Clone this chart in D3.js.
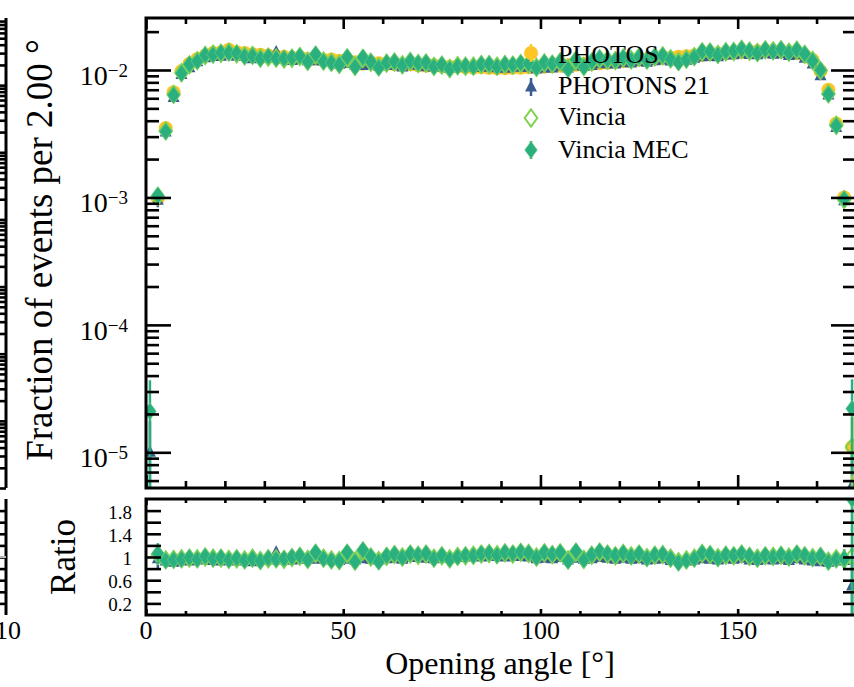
<!DOCTYPE html>
<html><head><meta charset="utf-8">
<script src="https://cdn.jsdelivr.net/npm/d3@7"></script>
<style>body{margin:0;background:#fff}svg{display:block}</style>
</head><body>
<svg id="c" width="854" height="687"></svg>
<script>
// ---------------- DATA ----------------
const bins = [1,3,5,7,9,11,13,15,17,19,21,23,25,27,29,31,33,35,37,39,41,43,45,47,49,51,53,55,57,59,
  61,63,65,67,69,71,73,75,77,79,81,83,85,87,89,91,93,95,97,99,101,103,105,107,109,111,113,115,117,119,
  121,123,125,127,129,131,133,135,137,139,141,143,145,147,149,151,153,155,157,159,161,163,165,167,169,171,173,175,177,179];

// PHOTOS (reference) fraction of events per bin
const photos = [0, 9.8e-4, 3.5e-3, 6.7e-3, 9.8e-3, 1.12e-2, 1.22e-2, 1.30e-2, 1.36e-2, 1.38e-2,
  1.44e-2, 1.38e-2, 1.36e-2, 1.33e-2, 1.32e-2, 1.30e-2, 1.28e-2, 1.27e-2, 1.25e-2, 1.26e-2,
  1.22e-2, 1.23e-2, 1.20e-2, 1.21e-2, 1.18e-2, 1.17e-2, 1.15e-2, 1.12e-2, 1.15e-2, 1.13e-2,
  1.12e-2, 1.11e-2, 1.10e-2, 1.11e-2, 1.09e-2, 1.08e-2, 1.09e-2, 1.07e-2, 1.06e-2, 1.07e-2,
  1.05e-2, 1.04e-2, 1.05e-2, 1.04e-2, 1.03e-2, 1.03e-2, 1.04e-2, 1.04e-2, 1.05e-2, 1.05e-2,
  1.06e-2, 1.07e-2, 1.08e-2, 1.09e-2, 1.10e-2, 1.11e-2, 1.12e-2, 1.13e-2, 1.14e-2, 1.16e-2,
  1.17e-2, 1.18e-2, 1.20e-2, 1.21e-2, 1.23e-2, 1.24e-2, 1.25e-2, 1.27e-2, 1.28e-2, 1.30e-2,
  1.31e-2, 1.33e-2, 1.34e-2, 1.35e-2, 1.37e-2, 1.38e-2, 1.39e-2, 1.40e-2, 1.41e-2, 1.40e-2,
  1.40e-2, 1.38e-2, 1.36e-2, 1.30e-2, 1.20e-2, 9.8e-3, 7.0e-3, 3.8e-3, 1.0e-3, 1.1e-5];

// Ratios to PHOTOS (lower panel)
const ratioPhotons = [null, 0.97, 0.93, 0.91, 0.94, 0.93, 0.95, 0.96, 0.94, 0.93,
  0.96, 0.93, 0.95, 0.92, 0.94, 0.95, 1.08, 0.95, 0.95, 0.96,
  0.97, 0.96, 0.98, 0.95, 0.94, 0.96, 0.95, 0.97, 0.96, 0.95,
  0.97, 0.98, 0.96, 0.99, 1.00, 0.98, 0.97, 0.99, 0.98, 0.99,
  1.00, 1.01, 1.00, 1.02, 1.01, 1.00, 1.02, 1.01, 1.00, 0.97,
  0.98, 0.97, 0.99, 0.95, 0.98, 0.96, 0.97, 0.99, 0.98, 0.96,
  0.98, 0.96, 0.97, 0.95, 0.96, 0.97, 0.94, 0.96, 0.93, 0.95,
  0.97, 0.96, 0.95, 0.97, 0.96, 0.98, 0.95, 0.94, 0.96, 0.95,
  0.96, 0.94, 0.97, 0.95, 0.93, 0.92, 0.91, 0.93, 0.94, 0.50];
const ratioVincia = [null, 1.04, 0.95, 0.96, 0.97, 0.98, 0.97, 1.00, 0.98, 0.98,
  0.96, 0.97, 0.95, 0.98, 0.94, 0.97, 0.97, 0.96, 0.99, 1.01,
  0.96, 1.06, 0.98, 0.95, 0.94, 1.06, 0.93, 1.10, 1.00, 0.94,
  1.01, 1.04, 1.00, 1.05, 1.03, 1.05, 0.98, 1.02, 0.97, 1.01,
  1.02, 1.03, 1.05, 1.06, 1.04, 1.07, 1.05, 1.08, 1.06, 1.00,
  1.07, 1.04, 1.07, 0.95, 1.08, 0.96, 1.03, 1.08, 1.05, 1.02,
  1.06, 1.02, 1.05, 0.99, 1.03, 1.04, 0.98, 0.92, 0.95, 0.98,
  1.06, 1.04, 0.99, 1.03, 1.02, 1.05, 1.01, 0.98, 1.02, 1.01,
  1.03, 1.00, 1.05, 1.02, 0.99, 1.01, 0.93, 0.97, 0.96, 1.00];
const ratioMec = [null, 1.06, 0.94, 0.95, 0.96, 0.99, 0.96, 1.01, 0.97, 0.99,
  0.95, 0.98, 0.94, 0.97, 0.93, 0.98, 0.96, 0.97, 1.00, 1.02,
  0.95, 1.08, 0.97, 0.94, 0.93, 1.08, 0.92, 1.12, 1.01, 0.92,
  1.02, 1.05, 0.99, 1.06, 1.04, 1.06, 0.97, 1.03, 0.96, 1.00,
  1.03, 1.02, 1.06, 1.07, 1.03, 1.08, 1.06, 1.09, 1.07, 0.99,
  1.08, 1.05, 1.08, 0.93, 1.10, 0.95, 1.04, 1.10, 1.06, 1.03,
  1.07, 1.01, 1.06, 0.98, 1.04, 1.05, 0.97, 0.90, 0.94, 0.97,
  1.07, 1.05, 0.98, 1.04, 1.03, 1.06, 1.02, 0.97, 1.03, 1.00,
  1.04, 0.99, 1.06, 1.03, 0.98, 1.02, 0.92, 0.96, 0.97, 2.00];

// values in the first bin, where PHOTOS is empty
const firstBinValues = { photons: 1.0e-5, vincia: null, mec: 2.1e-5 };

// relative statistical uncertainty per bin
const relErr = [0.75, 0.12, 0.05, 0.03, 0.02, 0.02, 0.02, 0.02, 0.02, 0.02,
  0.02, 0.02, 0.02, 0.02, 0.02, 0.02, 0.02, 0.02, 0.02, 0.02,
  0.02, 0.02, 0.02, 0.02, 0.02, 0.02, 0.02, 0.02, 0.02, 0.02,
  0.02, 0.02, 0.02, 0.02, 0.02, 0.02, 0.02, 0.02, 0.02, 0.02,
  0.02, 0.02, 0.02, 0.02, 0.02, 0.02, 0.02, 0.02, 0.02, 0.02,
  0.02, 0.02, 0.02, 0.02, 0.02, 0.02, 0.02, 0.02, 0.02, 0.02,
  0.02, 0.02, 0.02, 0.02, 0.02, 0.02, 0.02, 0.02, 0.02, 0.02,
  0.02, 0.02, 0.02, 0.02, 0.02, 0.02, 0.02, 0.02, 0.02, 0.02,
  0.02, 0.02, 0.02, 0.02, 0.02, 0.03, 0.05, 0.06, 0.12, 0.70];

const legendLabels = ["PHOTOS", "PHOTONS 21", "Vincia", "Vincia MEC"];
const xTickLabels = [0, 50, 100, 150];
const mainDecades = [-2, -3, -4, -5];
const ratioTickLabels = ["1.8", "1.4", "1", "0.6", "0.2"];

// ---------------- LAYOUT ----------------
const svg = d3.select("#c");
const FONT = "'Liberation Serif','Times New Roman',serif";
const X0 = 146, X1 = 856, MT = 18, MB = 488, RT = 499, RB = 615;
const x = d3.scaleLinear().domain([0, 180]).range([X0, X1]);
const yMain = d3.scaleLog().domain([Math.pow(10, -5.28), Math.pow(10, -1.592)]).range([MB, MT]);
const yRat = d3.scaleLinear().domain([0, 2]).range([RB, RT]);

const colors = { photos: "#fdc526", photons: "#3b5b91", vincia: "#7fd24f", mec: "#2ab07f" };

// ---- build series ----
function mainSeries(ratio, key) {
  return bins.map((b, i) => {
    let v = null;
    if (photos[i] > 0 && ratio[i] != null) v = photos[i] * ratio[i];
    else if (i === 0) v = firstBinValues[key];
    return v == null ? null : { a: b, v, e: relErr[i] };
  }).filter(d => d);
}
const sPhotos = bins.map((b, i) => photos[i] > 0 ? { a: b, v: photos[i], e: relErr[i] } : null).filter(d => d);
const sPhotons = mainSeries(ratioPhotons, "photons");
const sVincia = mainSeries(ratioVincia, "vincia");
const sMec = mainSeries(ratioMec, "mec");
function ratioSeries(ratio) {
  return bins.map((b, i) => ratio[i] == null ? null : { a: b, r: ratio[i], e: ratio[i] * Math.SQRT2 * relErr[i] }).filter(d => d);
}

// ---- clip paths ----
const defs = svg.append("defs");
defs.append("clipPath").attr("id", "clipMain").append("rect").attr("x", X0).attr("y", MT).attr("width", X1 - X0).attr("height", MB - MT);
defs.append("clipPath").attr("id", "clipRat").append("rect").attr("x", X0).attr("y", RT).attr("width", X1 - X0).attr("height", RB - RT);

// ---- marker drawing ----
const triPath = "M0,-7L6,4.5L-6,4.5Z";
const diaPath = "M0,-8.5L6.3,0L0,8.5L-6.3,0Z";
function drawMarkers(g, data, kind, cx, cy) {
  data.forEach(d => {
    const X = cx(d), Y = cy(d);
    if (kind === "photos") g.append("circle").attr("cx", X).attr("cy", Y).attr("r", 7).attr("fill", colors.photos);
    else if (kind === "photons") g.append("path").attr("d", triPath).attr("transform", `translate(${X},${Y})`).attr("fill", colors.photons);
    else if (kind === "vincia") g.append("path").attr("d", diaPath).attr("transform", `translate(${X},${Y})`).attr("fill", "none").attr("stroke", colors.vincia).attr("stroke-width", 2);
    else g.append("path").attr("d", diaPath).attr("transform", `translate(${X},${Y})`).attr("fill", colors.mec).attr("stroke", "#6fd07a").attr("stroke-width", 0.6);
  });
}
function drawErr(g, data, color, ylo, yhi) {
  data.forEach(d => {
    g.append("line").attr("x1", x(d.a)).attr("x2", x(d.a)).attr("y1", ylo(d)).attr("y2", yhi(d))
      .attr("stroke", color).attr("stroke-width", 2.5);
  });
}

// ---- main panel data ----
const gMain = svg.append("g").attr("clip-path", "url(#clipMain)");
const yMin = yMain.domain()[0];
const mlo = d => yMain(Math.max(d.v * (1 - d.e), yMin * 0.5));
const mhi = d => yMain(d.v * (1 + d.e));
[[sPhotos, "photos"], [sPhotons, "photons"], [sVincia, "vincia"], [sMec, "mec"]].forEach(([s, k]) => {
  drawErr(gMain, s, colors[k], mlo, mhi);
  drawMarkers(gMain, s, k, d => x(d.a), d => yMain(d.v));
});

// ---- ratio panel data ----
const gRat = svg.append("g").attr("clip-path", "url(#clipRat)");
gRat.append("line").attr("x1", X0).attr("x2", X1).attr("y1", yRat(1)).attr("y2", yRat(1)).attr("stroke", "#bbbbbb").attr("stroke-width", 2);
[[ratioSeries(ratioPhotons), "photons"], [ratioSeries(ratioVincia), "vincia"], [ratioSeries(ratioMec), "mec"]].forEach(([s, k]) => {
  drawErr(gRat, s, colors[k], d => yRat(d.r - d.e), d => yRat(d.r + d.e));
  drawMarkers(gRat, s, k, d => x(d.a), d => yRat(d.r));
});

// ---------------- AXES ----------------
function styleAxis(g) {
  g.select(".domain").remove();
  g.selectAll(".tick line").attr("stroke", "#000").attr("stroke-width", 2.6);
  g.selectAll(".tick text").remove();
}
const decadeVals = [1e-5, 1e-4, 1e-3, 1e-2];
const minorVals = [];
[1e-6, 1e-5, 1e-4, 1e-3, 1e-2].forEach(d => { for (let k = 2; k <= 9; k++) { const v = d * k; if (v >= yMain.domain()[0] && v <= yMain.domain()[1]) minorVals.push(v); } });
// main y axes
svg.append("g").attr("transform", `translate(${X0},0)`).call(d3.axisRight(yMain).tickValues(decadeVals).tickSize(25)).call(styleAxis);
svg.append("g").attr("transform", `translate(${X0},0)`).call(d3.axisRight(yMain).tickValues(minorVals).tickSize(13)).call(styleAxis);
svg.append("g").attr("transform", `translate(${X1},0)`).call(d3.axisLeft(yMain).tickValues(decadeVals).tickSize(25)).call(styleAxis);
svg.append("g").attr("transform", `translate(${X1},0)`).call(d3.axisLeft(yMain).tickValues(minorVals).tickSize(13)).call(styleAxis);
// x axes
const xMajor = [0, 50, 100, 150], xMinor = [10, 20, 30, 40, 60, 70, 80, 90, 110, 120, 130, 140, 160, 170];
svg.append("g").attr("transform", `translate(0,${MT})`).call(d3.axisBottom(x).tickValues(xMajor).tickSize(11)).call(styleAxis);
svg.append("g").attr("transform", `translate(0,${MT})`).call(d3.axisBottom(x).tickValues(xMinor).tickSize(6)).call(styleAxis);
svg.append("g").attr("transform", `translate(0,${MB})`).call(d3.axisTop(x).tickValues(xMajor).tickSize(13)).call(styleAxis);
svg.append("g").attr("transform", `translate(0,${MB})`).call(d3.axisTop(x).tickValues(xMinor).tickSize(7)).call(styleAxis);
svg.append("g").attr("transform", `translate(0,${RT})`).call(d3.axisBottom(x).tickValues(xMajor).tickSize(6)).call(styleAxis);
svg.append("g").attr("transform", `translate(0,${RT})`).call(d3.axisBottom(x).tickValues(xMinor).tickSize(4)).call(styleAxis);
svg.append("g").attr("transform", `translate(0,${RB})`).call(d3.axisTop(x).tickValues(xMajor).tickSize(6)).call(styleAxis);
svg.append("g").attr("transform", `translate(0,${RB})`).call(d3.axisTop(x).tickValues(xMinor).tickSize(4)).call(styleAxis);
// ratio y axes
const rTicks = [0.2, 0.4, 0.6, 0.8, 1.0, 1.2, 1.4, 1.6, 1.8];
svg.append("g").attr("transform", `translate(${X0},0)`).call(d3.axisRight(yRat).tickValues(rTicks).tickSize(15)).call(styleAxis);
svg.append("g").attr("transform", `translate(${X1},0)`).call(d3.axisLeft(yRat).tickValues(rTicks).tickSize(13)).call(styleAxis);

// frames
svg.append("rect").attr("x", X0).attr("y", MT).attr("width", X1 - X0).attr("height", MB - MT).attr("fill", "none").attr("stroke", "#000").attr("stroke-width", 3);
svg.append("rect").attr("x", X0).attr("y", RT).attr("width", X1 - X0).attr("height", RB - RT).attr("fill", "none").attr("stroke", "#000").attr("stroke-width", 3);

// ---------------- TICK LABELS ----------------
mainDecades.forEach(p => {
  const t = svg.append("text").attr("x", 128).attr("y", yMain(Math.pow(10, p)) + 15)
    .attr("text-anchor", "end").attr("font-family", FONT).attr("font-size", 28).attr("fill", "#000");
  t.append("tspan").text("10");
  t.append("tspan").attr("font-size", 19).attr("dy", -8).text("\u2212" + Math.abs(p));
});
ratioTickLabels.forEach(l => {
  svg.append("text").attr("x", 132).attr("y", yRat(+l) + 8).attr("text-anchor", "end")
    .attr("font-family", FONT).attr("font-size", 19).text(l);
});
xTickLabels.forEach(v => {
  svg.append("text").attr("x", x(v)).attr("y", 639).attr("text-anchor", "middle")
    .attr("font-family", FONT).attr("font-size", 26).text(v);
});

// axis titles
svg.append("text").attr("transform", "translate(52,250) rotate(-90)").attr("text-anchor", "middle")
  .attr("font-family", FONT).attr("font-size", 37).text("Fraction of events per 2.00 \u00b0");
svg.append("text").attr("transform", "translate(75,557) rotate(-90)").attr("text-anchor", "middle")
  .attr("font-family", FONT).attr("font-size", 35).text("Ratio");
svg.append("text").attr("x", 500).attr("y", 674).attr("text-anchor", "middle")
  .attr("font-family", FONT).attr("font-size", 32).text("Opening angle [\u00b0]");

// ---------------- LEGEND ----------------
const legKeys = ["photos", "photons", "vincia", "mec"];
const legY = [53, 87, 118, 150];
const legTextY = [54, 85, 116, 149];
legKeys.forEach((k, i) => {
  const g = svg.append("g");
  g.append("line").attr("x1", 531).attr("x2", 531).attr("y1", legY[i] - 9).attr("y2", legY[i] + 9)
    .attr("stroke", colors[k]).attr("stroke-width", 2.5);
  if (k === "vincia") {
    g.append("path").attr("d", diaPath).attr("transform", `translate(531,${legY[i]})`).attr("fill", "#fff").attr("stroke", colors.vincia).attr("stroke-width", 2);
  } else drawMarkers(g, [{}], k, () => 531, () => legY[i]);
  svg.append("text").attr("x", 558).attr("y", legTextY[i] + 9).attr("font-family", FONT).attr("font-size", 26).text(legendLabels[i]);
});

// ---------------- LEFT NEIGHBOUR PANEL (cropped) ----------------
const stubX = 6;
const yStub = d3.scaleLog().domain([1e-7, 1e0]).range([MB, MT]);
svg.append("line").attr("x1", stubX).attr("x2", stubX).attr("y1", MT).attr("y2", MB).attr("stroke", "#000").attr("stroke-width", 3);
svg.append("line").attr("x1", stubX).attr("x2", stubX).attr("y1", RT).attr("y2", RB).attr("stroke", "#000").attr("stroke-width", 3);
const stubMinor = [];
[1e-7, 1e-6, 1e-5, 1e-4, 1e-3, 1e-2, 1e-1].forEach(d => { for (let k = 1; k <= 9; k++) stubMinor.push(d * k); });
svg.append("g").attr("transform", `translate(${stubX},0)`).call(d3.axisLeft(yStub).tickValues(stubMinor).tickSize(10)).call(styleAxis);
svg.append("g").attr("transform", `translate(${stubX},0)`).call(d3.axisLeft(yRat).tickValues(rTicks).tickSize(12)).call(styleAxis);
svg.append("line").attr("x1", 0).attr("x2", stubX).attr("y1", yRat(1)).attr("y2", yRat(1)).attr("stroke", "#bbbbbb").attr("stroke-width", 2);
svg.append("text").attr("x", stubX + 2).attr("y", 639).attr("text-anchor", "middle").attr("font-family", FONT).attr("font-size", 26).text("10");
</script>
</body></html>
